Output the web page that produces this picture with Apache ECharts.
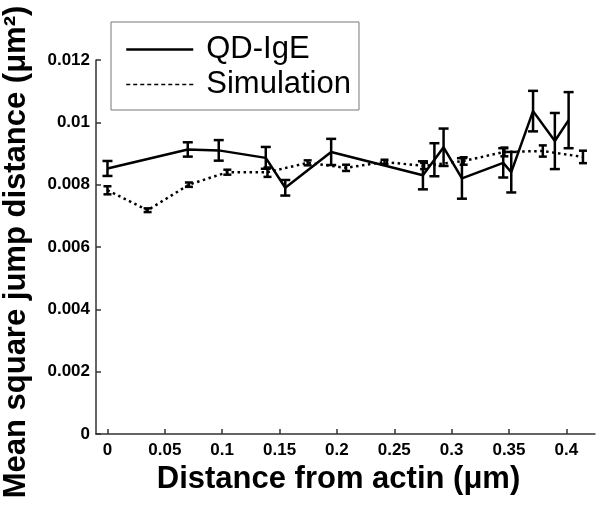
<!DOCTYPE html>
<html>
<head>
<meta charset="utf-8">
<script src="https://cdn.jsdelivr.net/npm/echarts@6/dist/echarts.min.js"></script>
<style>html,body{margin:0;padding:0;background:#fff;}#c{width:600px;height:510px;}</style>
</head>
<body>
<div id="c"></div>
<script>
// QD-IgE measurements
var qdX   = [0, 0.070, 0.097, 0.138, 0.155, 0.195, 0.275, 0.285, 0.293, 0.309, 0.345, 0.352, 0.371, 0.390, 0.402];
var qdY   = [0.00852, 0.00913, 0.0091, 0.00886, 0.0079, 0.00905, 0.0083, 0.0088, 0.0092, 0.0082, 0.0087, 0.0084, 0.01036, 0.0094, 0.01007];
var qdErr = [0.00024, 0.00023, 0.00033, 0.00035, 0.00025, 0.00042, 0.00045, 0.00053, 0.0006, 0.00065, 0.00047, 0.00065, 0.00065, 0.0009, 0.0009];
// Simulation
var simX   = [0, 0.035, 0.071, 0.1045, 0.1395, 0.1745, 0.208, 0.2415, 0.276, 0.3105, 0.346, 0.3795, 0.4145];
var simY   = [0.00782, 0.00718, 0.0080, 0.0084, 0.0084, 0.0087, 0.00854, 0.00873, 0.0086, 0.00876, 0.00905, 0.00908, 0.00889];
var simErr = [0.00013, 0.00006, 0.00007, 0.00008, 0.00015, 0.00008, 0.0001, 0.00007, 0.0001, 0.00012, 0.00014, 0.00018, 0.0002];
// ticks
var xTicks = [0, 0.05, 0.1, 0.15, 0.2, 0.25, 0.3, 0.35, 0.4];
var xTickLabels = ['0', '0.05', '0.1', '0.15', '0.2', '0.25', '0.3', '0.35', '0.4'];
var yTickLabels = ['0', '0.002', '0.004', '0.006', '0.008', '0.01', '0.012'];

function pairs(xs, ys) { return xs.map(function (x, i) { return [x, ys[i]]; }); }
function errData(xs, ys, es) { return xs.map(function (x, i) { return [x, ys[i] - es[i], ys[i] + es[i]]; }); }
function errRender(capHalf) {
  return function (params, api) {
    var lo = api.coord([api.value(0), api.value(1)]);
    var hi = api.coord([api.value(0), api.value(2)]);
    var st = { stroke: '#000', lineWidth: 2.5 };
    return { type: 'group', children: [
      { type: 'line', shape: { x1: lo[0], y1: lo[1], x2: hi[0], y2: hi[1] }, style: st },
      { type: 'line', shape: { x1: lo[0] - capHalf, y1: lo[1], x2: lo[0] + capHalf, y2: lo[1] }, style: st },
      { type: 'line', shape: { x1: hi[0] - capHalf, y1: hi[1], x2: hi[0] + capHalf, y2: hi[1] }, style: st }
    ]};
  };
}

var font = 'Liberation Sans, Arial, sans-serif';
var chart = echarts.init(document.getElementById('c'), null, { renderer: 'canvas' });
chart.setOption({
  backgroundColor: '#fff',
  animation: false,
  grid: { left: 96, right: 5, top: 60, bottom: 76, containLabel: false, outerBoundsMode: 'none' },
  legend: {
    orient: 'vertical', left: 111, top: 22,
    padding: [12, 8, 10, 14],
    itemGap: 4, itemWidth: 67, itemHeight: 14,
    borderColor: '#777', borderWidth: 1,
    backgroundColor: '#fff',
    itemStyle: { color: 'rgba(0,0,0,0)', borderColor: 'rgba(0,0,0,0)', borderWidth: 0, opacity: 0 },
    textStyle: { fontFamily: font, fontSize: 31, color: '#000', padding: [0, 0, 0, 8] },
    data: [
      { name: 'QD-IgE', lineStyle: { width: 2.5 } },
      { name: 'Simulation', lineStyle: { type: [4, 3], width: 1.5 } }
    ]
  },
  xAxis: {
    type: 'value', min: -0.01, max: 0.425,
    name: 'Distance from actin (\u03bcm)', nameLocation: 'middle', nameGap: 27,
    nameTextStyle: { fontFamily: font, fontSize: 31, fontWeight: 'bold', color: '#000', padding: [0, 14, 0, 0] },
    axisLine: { onZero: false, lineStyle: { color: '#333', width: 1.5 } },
    axisTick: { inside: true, length: 5, lineStyle: { color: '#333', width: 1.5 }, customValues: xTicks },
    axisLabel: {
      customValues: xTicks, margin: 8,
      fontFamily: font, fontSize: 17, fontWeight: 'bold', color: '#000',
      formatter: function (v) { var i = xTicks.indexOf(v); return i >= 0 ? xTickLabels[i] : ''; }
    },
    splitLine: { show: false }
  },
  yAxis: {
    type: 'value', min: 0, max: 0.012, interval: 0.002,
    name: 'Mean square jump distance (\u03bcm\u00b2)', nameLocation: 'middle', nameGap: 64,
    nameTextStyle: { fontFamily: font, fontSize: 31, fontWeight: 'bold', color: '#000', padding: [0, 10, 0, 0] },
    axisLine: { show: true, onZero: false, lineStyle: { color: '#333', width: 1.5 } },
    axisTick: { show: true, inside: true, length: 5, lineStyle: { color: '#333', width: 1.5 } },
    axisLabel: {
      margin: 6, fontFamily: font, fontSize: 17, fontWeight: 'bold', color: '#000',
      formatter: function (v) { var i = Math.round(v / 0.002); return yTickLabels[i] || ''; }
    },
    splitLine: { show: false }
  },
  series: [
    {
      name: 'Simulation', type: 'line', symbol: 'none', z: 2,
      lineStyle: { color: '#000', width: 2.5, type: [2.5, 3.5], cap: 'butt' },
      itemStyle: { color: '#000' },
      data: pairs(simX, simY)
    },
    {
      name: 'Simulation err', type: 'custom', z: 3,
      renderItem: errRender(4),
      encode: { x: 0, y: [1, 2] },
      data: errData(simX, simY, simErr)
    },
    {
      name: 'QD-IgE', type: 'line', symbol: 'none', z: 4,
      lineStyle: { color: '#000', width: 2.5, type: 'solid' },
      itemStyle: { color: '#000' },
      data: pairs(qdX, qdY)
    },
    {
      name: 'QD-IgE err', type: 'custom', z: 5,
      renderItem: errRender(5),
      encode: { x: 0, y: [1, 2] },
      data: errData(qdX, qdY, qdErr)
    }
  ]
});
</script>
</body>
</html>
